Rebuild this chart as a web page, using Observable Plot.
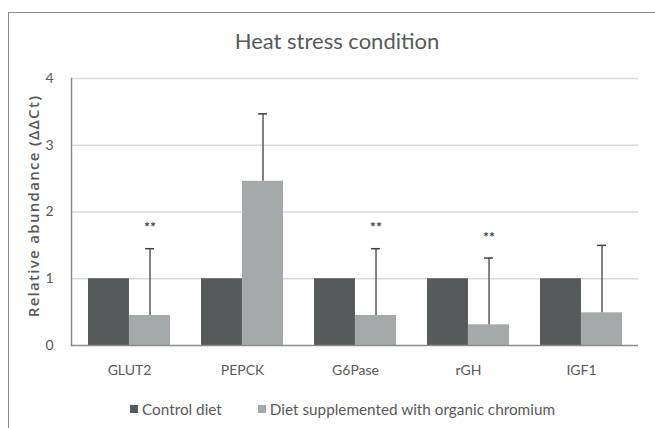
<!DOCTYPE html>
<html>
<head>
<meta charset="utf-8">
<script src="https://cdn.jsdelivr.net/npm/d3@7"></script>
<script src="https://cdn.jsdelivr.net/npm/@observablehq/plot@0.6"></script>
<style>
  body { margin: 0; background: #fff; }
  #wrap { position: relative; width: 655px; height: 428px; overflow: hidden; background: #fff; font-family: Lato, sans-serif; color: #595959; }
  #frame { position: absolute; left: 8px; top: 12px; width: 720px; height: 520px; border-left: 1.5px solid #8c8c8c; border-top: 1.5px solid #8c8c8c; box-sizing: border-box; pointer-events: none; }
  #title { position: relative; height: 60px; box-sizing: border-box; padding-top: 30px; padding-left: 19px; width: 655px; text-align: center; font-size: 22px; line-height: 22px; }
  #chart { position: relative; height: 330px; }
  #chart svg { overflow: visible; }
  #legend { position: relative; margin-top: 9px; height: 20px; line-height: 20px; display: flex; justify-content: center; align-items: center; padding-left: 30px; font-size: 15.3px; gap: 36px; }
  .item { display: flex; align-items: center; gap: 4px; }
  .sw { width: 8px; height: 8px; display: inline-block; }
</style>
</head>
<body>
<div id="wrap">
  <div id="frame"></div>
  <div id="title">Heat stress condition</div>
  <div id="chart"></div>
  <div id="legend"></div>
</div>
<script>
const genes = ["GLUT2", "PEPCK", "G6Pase", "rGH", "IGF1"];
const control = [1, 1, 1, 1, 1];
const chromium = [0.45, 2.46, 0.45, 0.31, 0.49];
const chromiumErr = [1.00, 1.01, 1.00, 1.00, 1.01];
const significance = ["**", "", "**", "**", ""];
const yTicks = [0, 1, 2, 3, 4];
const yLabel = "Relative abundance (ΔΔCt)";
const seriesNames = ["Control diet", "Diet supplemented with organic chromium"];
const seriesColors = ["#565a5b", "#a6a9a9"];

const data = genes.map((g, i) => ({
  gene: g,
  control: control[i],
  chromium: chromium[i],
  top: chromium[i] + chromiumErr[i],
  sig: significance[i]
}));

const W = 655, mL = 71, mR = 17, pad = 0.276;
const step = (W - mL - mR) / genes.length;
const bw = step * (1 - pad);
const half = bw / 2;
const capHalf = 4.5;

const chart = Plot.plot({
  width: W,
  height: 330,
  marginLeft: mL,
  marginRight: mR,
  marginTop: 18,
  marginBottom: 45,
  style: { fontFamily: "Lato, sans-serif", fontSize: "14px", color: "#595959", background: "transparent" },
  x: { domain: genes, paddingInner: pad, paddingOuter: pad / 2, label: null },
  y: { domain: [0, 4], label: null },
  marks: [
    Plot.ruleY(yTicks.filter(d => d > 0), { stroke: "#d9d9d9", strokeWidth: 1.5 }),
    Plot.barY(data, { x: "gene", y: "control", fill: seriesColors[0], insetRight: half }),
    Plot.barY(data, { x: "gene", y: "chromium", fill: seriesColors[1], insetLeft: half }),
    Plot.ruleY([0], { stroke: "#8c8c8c", strokeWidth: 1.5 }),
    Plot.frame({ anchor: "left", stroke: "#8c8c8c", strokeWidth: 1.5 }),
    Plot.ruleX(data, { x: "gene", y1: "chromium", y2: "top", dx: half / 2, stroke: "#404040", strokeWidth: 1.3 }),
    Plot.tickY(data, { x: "gene", y: "top", insetLeft: half + half / 2 - capHalf, insetRight: half / 2 - capHalf, stroke: "#404040", strokeWidth: 1.5 }),
    Plot.text(data.filter(d => d.sig), { x: "gene", y: "top", text: "sig", dx: half / 2, dy: -21, fontSize: 14, fontWeight: "bold", fill: "#404040" }),
    Plot.axisX({ tickSize: 0, tickPadding: 20, fontSize: 14, label: null }),
    Plot.axisY({ ticks: yTicks, tickSize: 0, tickPadding: 18, fontSize: 14, tickFormat: d3.format("d"), label: null }),
    Plot.text([yLabel], { text: d => d, frameAnchor: "left", textAnchor: "middle", rotate: -90, dx: -37, dy: -6, fontSize: 15, fontWeight: 600, fontFamily: "Open Sans, sans-serif", fill: "#595959" })
  ]
});
document.getElementById("chart").appendChild(chart);
chart.querySelectorAll("text").forEach(t => {
  if (t.textContent === yLabel) t.style.letterSpacing = "1.3px";
});

const legend = document.getElementById("legend");
seriesNames.forEach((name, i) => {
  const item = document.createElement("span");
  item.className = "item";
  const sw = document.createElement("span");
  sw.className = "sw";
  sw.style.background = seriesColors[i];
  const t = document.createElement("span");
  t.textContent = name;
  item.appendChild(sw);
  item.appendChild(t);
  legend.appendChild(item);
});
</script>
</body>
</html>
